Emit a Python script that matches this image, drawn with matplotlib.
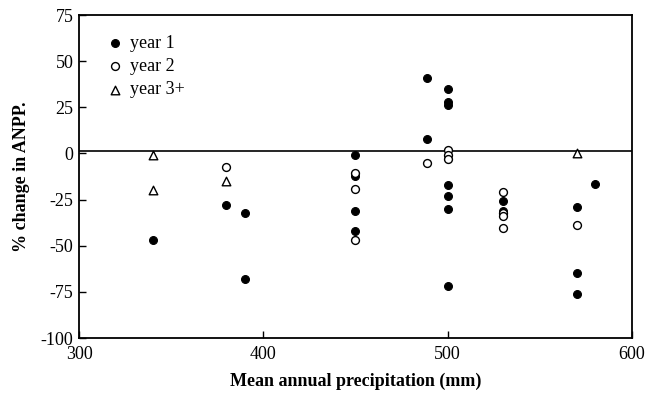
import matplotlib
matplotlib.use("Agg")
import matplotlib.pyplot as plt

plt.rcParams['font.family'] = ['Liberation Serif', 'DejaVu Serif']
plt.rcParams['axes.unicode_minus'] = False

# year 1 (filled circles)
y1_x = [340, 380, 390, 390, 450, 450, 450, 450, 489, 489, 500, 500, 500, 500, 500, 500, 500,
        530, 530, 570, 570, 570, 580]
y1_y = [-47, -28, -32, -68, -1, -12, -31, -42, 41, 8, 35, 28, 26, -17, -23, -30, -72,
        -26, -31, -29, -65, -76, -16.5]

# year 2 (open circles)
y2_x = [380, 450, 450, 450, 489, 500, 500, 500, 530, 530, 530, 530, 570]
y2_y = [-7.5, -10.5, -19, -47, -5, 2, -1, -3, -21, -32.5, -34, -40.5, -39]

# year 3+ (open triangles)
y3_x = [340, 340, 380, 570]
y3_y = [-1, -20, -15, 0]

fig = plt.figure(figsize=(6.48, 3.95), dpi=100)
ax = fig.add_axes([0.122, 0.144, 0.853, 0.818])

ax.axhline(1.5, color='black', lw=1.2, zorder=1)
ax.scatter(y1_x, y1_y, s=32, facecolor='black', edgecolor='black', lw=0.8, label='year 1', zorder=3)
ax.scatter(y2_x, y2_y, s=32, facecolor='white', edgecolor='black', lw=1.0, label='year 2', zorder=3)
ax.scatter(y3_x, y3_y, s=38, marker='^', facecolor='white', edgecolor='black', lw=1.0,
           label='year 3+', zorder=3)

ax.set_xlim(300, 600)
ax.set_ylim(-100, 75)
ax.set_xticks([300, 400, 500, 600])
ax.set_yticks([-100, -75, -50, -25, 0, 25, 50, 75])
ax.tick_params(direction='in', length=5, labelsize=13, width=1)
ax.tick_params(axis='x', pad=6)
ax.tick_params(axis='y', pad=4)
for sp in ax.spines.values():
    sp.set_linewidth(1.3)

ax.set_xlabel('Mean annual precipitation (mm)', fontsize=13, fontweight='bold', labelpad=7)
ax.set_ylabel('% change in ANPP.', fontsize=13, fontweight='bold', labelpad=8)

ax.legend(loc='upper left', frameon=False, fontsize=13, handletextpad=-0.2,
          borderaxespad=0.6, labelspacing=0.35, bbox_to_anchor=(0.0, 0.995))

fig.savefig('out.png', dpi=100)
